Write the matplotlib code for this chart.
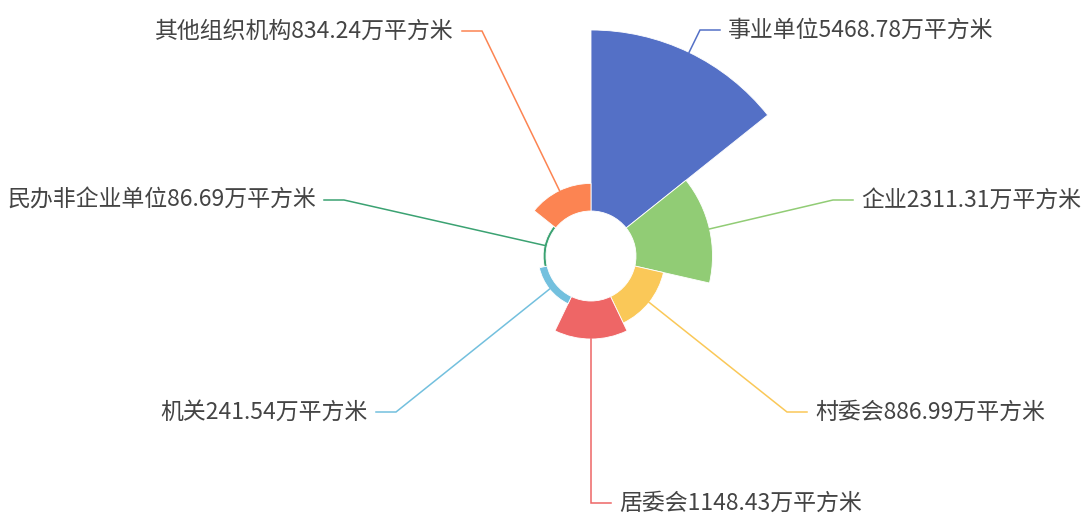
import matplotlib
matplotlib.use('Agg')
import numpy as np
from matplotlib import pyplot as plt
from matplotlib.patches import Wedge

plt.rcParams['font.family'] = ['Noto Sans CJK SC', 'DejaVu Sans']

# 数据
names = ['事业单位', '企业', '村委会', '居委会', '机关', '民办非企业单位', '其他组织机构']
values = [5468.78, 2311.31, 886.99, 1148.43, 241.54, 86.69, 834.24]
colors = ['#5470c6', '#91cc75', '#fac858', '#ee6666', '#73c0de', '#3ba272', '#fc8452']

# 布局 (像素坐标, y 向下)
W, H = 1088, 515
cx, cy = 591, 256
r_in, r_out = 45, 226
# 标签引导线拐点 (x, y) 和方向
elbows = [(700, 30), (833, 200), (787, 412), (591, 503), (396, 412), (344, 200), (482, 31)]
sides = [1, 1, 1, 1, -1, -1, -1]
len2 = 20
gap = 8

fig = plt.figure(figsize=(W / 100, H / 100), dpi=100)
ax = fig.add_axes([0, 0, 1, 1])
ax.set_xlim(0, W)
ax.set_ylim(0, H)
ax.axis('off')

n = len(values)
step = 360.0 / n
vmax = max(values)

for i, (name, v, c) in enumerate(zip(names, values, colors)):
    # 南丁格尔玫瑰图 (面积模式): 角度相同, 半径按数值
    r = r_in + (r_out - r_in) * v / vmax
    a0 = i * step
    a1 = (i + 1) * step
    w = Wedge((cx, H - cy), r, 90 - a1, 90 - a0, width=r - r_in,
              facecolor=c, edgecolor='white', linewidth=0.6)
    ax.add_patch(w)

    # 引导线
    am = np.radians((a0 + a1) / 2)
    sx = cx + r * np.sin(am)
    sy = cy - r * np.cos(am)
    ex, ey = elbows[i]
    s = sides[i]
    xs = [sx, ex, ex + s * len2]
    ys = [H - sy, H - ey, H - ey]
    ax.plot(xs, ys, color=c, linewidth=1.1, solid_joinstyle='miter')

    label = f'{name}{v:.2f}万平方米'
    ax.text(ex + s * (len2 + gap), H - ey, label, fontsize=16.5, color='#444444',
            ha='left' if s > 0 else 'right', va='center')

plt.savefig('out.png', dpi=100)
plt.close()
